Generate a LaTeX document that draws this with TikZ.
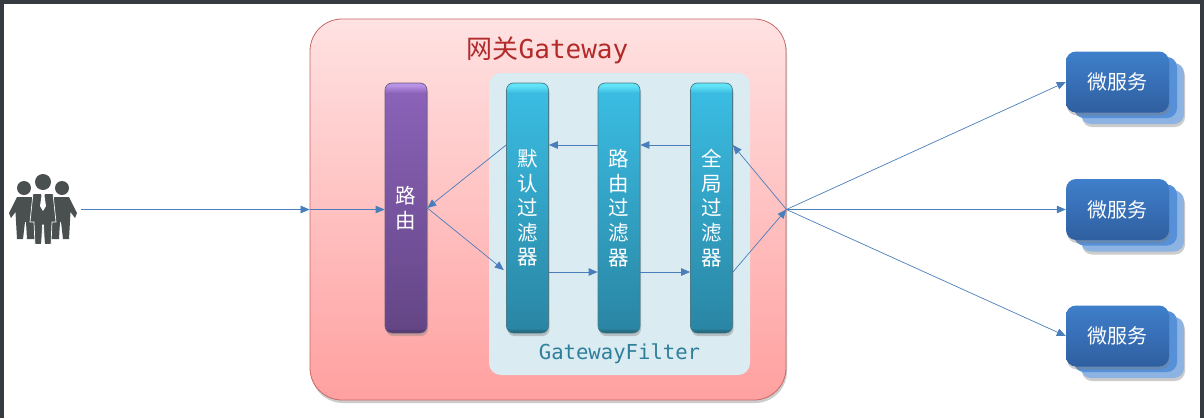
\documentclass[tikz,border=0pt]{standalone}
\usepackage{fontspec}
\usepackage{tikz}
\usetikzlibrary{arrows.meta,shadows}
\newfontfamily\cjk{Noto Sans CJK SC}
\newfontfamily\codefont{DejaVu Sans Mono}
\definecolor{framegray}{HTML}{353B41}
\definecolor{peoplegray}{HTML}{4A5050}
\definecolor{flowblue}{HTML}{4A7EBB}
\definecolor{panelblue}{HTML}{DAEBF2}
\definecolor{titlered}{HTML}{B22A2A}
\definecolor{filterteal}{HTML}{2F7F9A}
\definecolor{gatewaytop}{HTML}{FFE2E2}
\definecolor{gatewaybottom}{HTML}{FFA0A0}
\definecolor{gatewayline}{HTML}{C86868}
\definecolor{purplerim}{HTML}{4A3362}
\definecolor{purplelow}{HTML}{644686}
\definecolor{purplehigh}{HTML}{8A62B8}
\definecolor{purpleglow}{HTML}{B892E4}
\definecolor{tealrim}{HTML}{1E5A6C}
\definecolor{teallow}{HTML}{2A86A4}
\definecolor{tealhigh}{HTML}{3ABCE2}
\definecolor{tealglow}{HTML}{62E4F8}
\definecolor{fronttop}{HTML}{3F7FCB}
\definecolor{frontbottom}{HTML}{2F5FA0}
\definecolor{servicemidblue}{HTML}{5590D8}
\definecolor{servicebackblue}{HTML}{8DB3E2}
% bar fills, the path covers 25bp to 75bp of each shading
\pgfdeclareverticalshading{purplebar}{100bp}{color(0bp)=(purplerim);color(25bp)=(purplerim);color(26bp)=(purplelow);color(73bp)=(purplehigh);color(74.5bp)=(purpleglow);color(100bp)=(purpleglow)}
\pgfdeclareverticalshading{tealbar}{100bp}{color(0bp)=(tealrim);color(25bp)=(tealrim);color(26bp)=(teallow);color(73bp)=(tealhigh);color(74.5bp)=(tealglow);color(100bp)=(tealglow)}
\tikzset{
  softshadow/.style={drop shadow={opacity=0.4,shadow xshift=1pt,shadow yshift=-3pt}},
  gatewaybox/.style={draw=gatewayline,line width=0.8pt,rounded corners=32pt,top color=gatewaytop,bottom color=gatewaybottom,minimum width=476pt,minimum height=381pt,inner sep=0pt,softshadow},
  panelbox/.style={fill=panelblue,rounded corners=12pt,minimum width=261pt,minimum height=302pt,inner sep=0pt},
  barbox/.style={rounded corners=7pt,minimum width=42pt,minimum height=250pt,inner sep=0pt,text=white,align=center,font=\cjk\fontsize{20.5}{24.6}\selectfont,softshadow},
  routebar/.style={barbox,draw=purplerim!80,line width=0.7pt,shading=purplebar},
  filterbar/.style={barbox,draw=tealrim!80,line width=0.7pt,shading=tealbar},
  servicefront/.style={rounded corners=10pt,minimum width=103pt,minimum height=61pt,inner sep=0pt,top color=fronttop,bottom color=frontbottom,text=white,font=\cjk\fontsize{20}{24}\selectfont,softshadow},
  servicemid/.style={rounded corners=10pt,minimum width=103pt,minimum height=61pt,fill=servicemidblue,inner sep=0pt},
  serviceback/.style={rounded corners=10pt,minimum width=103pt,minimum height=61pt,fill=servicebackblue,inner sep=0pt,softshadow},
  flow/.style={-{Triangle[length=9pt,width=7.5pt]},flowblue,line width=0.7pt},
}
\begin{document}
\begin{tikzpicture}[x=1pt,y=-1pt]
  \useasboundingbox (0,0) rectangle (1204,418);
  \fill[white] (0,0) rectangle (1204,418);
  % Window frame
  \fill[framegray] (0,0) rectangle (1204,4);
  \fill[framegray] (0,0) rectangle (4,418);
  \fill[framegray] (1200,0) rectangle (1204,418);

  % Gateway and filter panel
  \node[gatewaybox] (gateway) at (548,209.5) {};
  \node[panelbox] (panel) at (619.5,224) {};
  \node[text=titlered,font=\fontsize{26}{28}\selectfont,inner sep=0pt] (title) at (547.5,50) {{\cjk 网关}{\codefont Gateway}};
  \node[text=filterteal,font=\codefont\fontsize{20.6}{24}\selectfont,inner sep=0pt] (filtertitle) at (619.5,354) {GatewayFilter};

  % Bars
  \node[routebar] (route) at (406,208) {路\\由};
  \node[filterbar] (defaultfilter) at (527.5,208) {默\\认\\过\\滤\\器};
  \node[filterbar] (routefilter) at (619,208) {路\\由\\过\\滤\\器};
  \node[filterbar] (globalfilter) at (711.5,208) {全\\局\\过\\滤\\器};

  % Microservice stacks
  \node[serviceback] (back1) at (1132.5,93.5) {};
  \node[servicemid] (mid1) at (1125.5,87.5) {};
  \node[servicefront] (service1) at (1117.5,82) {微服务};
  \node[serviceback] (back2) at (1132.5,221) {};
  \node[servicemid] (mid2) at (1125.5,215) {};
  \node[servicefront] (service2) at (1117.5,209.5) {微服务};
  \node[serviceback] (back3) at (1132.5,347.5) {};
  \node[servicemid] (mid3) at (1125.5,341.5) {};
  \node[servicefront] (service3) at (1117.5,336) {微服务};

  % Users
  \node[minimum width=76pt,minimum height=70pt,inner sep=0pt] (people) at (43,209.5) {};
  \fill[peoplegray] (24,188) circle (7pt);
  \fill[peoplegray] (62,188) circle (7pt);
  \fill[peoplegray] (17,197) -- (32,197) -- (37,210) -- (36,239) -- (27,239) -- (26,222)
      -- (25,222) -- (23,239) -- (17,239) -- (15.5,212) -- (11,218) -- (9,213) -- cycle;
  \fill[peoplegray] (69,197) -- (54,197) -- (49,210) -- (50,239) -- (59,239) -- (60,222)
      -- (61,222) -- (63,239) -- (69,239) -- (70.5,212) -- (75,218) -- (77,213) -- cycle;
  \fill[peoplegray] (43,182) circle (8pt);
  \filldraw[fill=peoplegray,draw=white,line width=0.7pt] (33,193.5) -- (53,193.5) -- (56,222) -- (52,222)
      -- (51,244.5) -- (44.5,244.5) -- (43.5,225) -- (42.5,225) -- (41.5,244.5) -- (35,244.5) -- (34,222) -- (30,222) -- cycle;
  \fill[white] (41,193) -- (45,193) -- (44.5,196) -- (46,206) -- (43,211) -- (40,206) -- (41.5,196) -- cycle;

  % Arrow levels across the filters
  \coordinate (upper) at (0,145);
  \coordinate (lower) at (0,272);
  \coordinate (hub) at (gateway.east);

  % Connectors
  \draw[flow] (people.east) -- (gateway.west);
  \draw[flow] (gateway.west) -- (route.west |- gateway.west);
  \draw[flow] (defaultfilter.west |- upper) -- (route.east);
  \draw[flow,shorten >=3pt] (route.east) -- (defaultfilter.west |- lower);
  \draw[flow] (defaultfilter.east |- lower) -- (routefilter.west |- lower);
  \draw[flow] (routefilter.east |- lower) -- (globalfilter.west |- lower);
  \draw[flow] (globalfilter.east |- lower) -- (hub);
  \draw[flow] (hub) -- (globalfilter.east |- upper);
  \draw[flow] (globalfilter.west |- upper) -- (routefilter.east |- upper);
  \draw[flow] (routefilter.west |- upper) -- (defaultfilter.east |- upper);
  \draw[flow] (hub) -- (service1.west);
  \draw[flow] (hub) -- (service2.west);
  \draw[flow] (hub) -- (service3.west);
\end{tikzpicture}
\end{document}
